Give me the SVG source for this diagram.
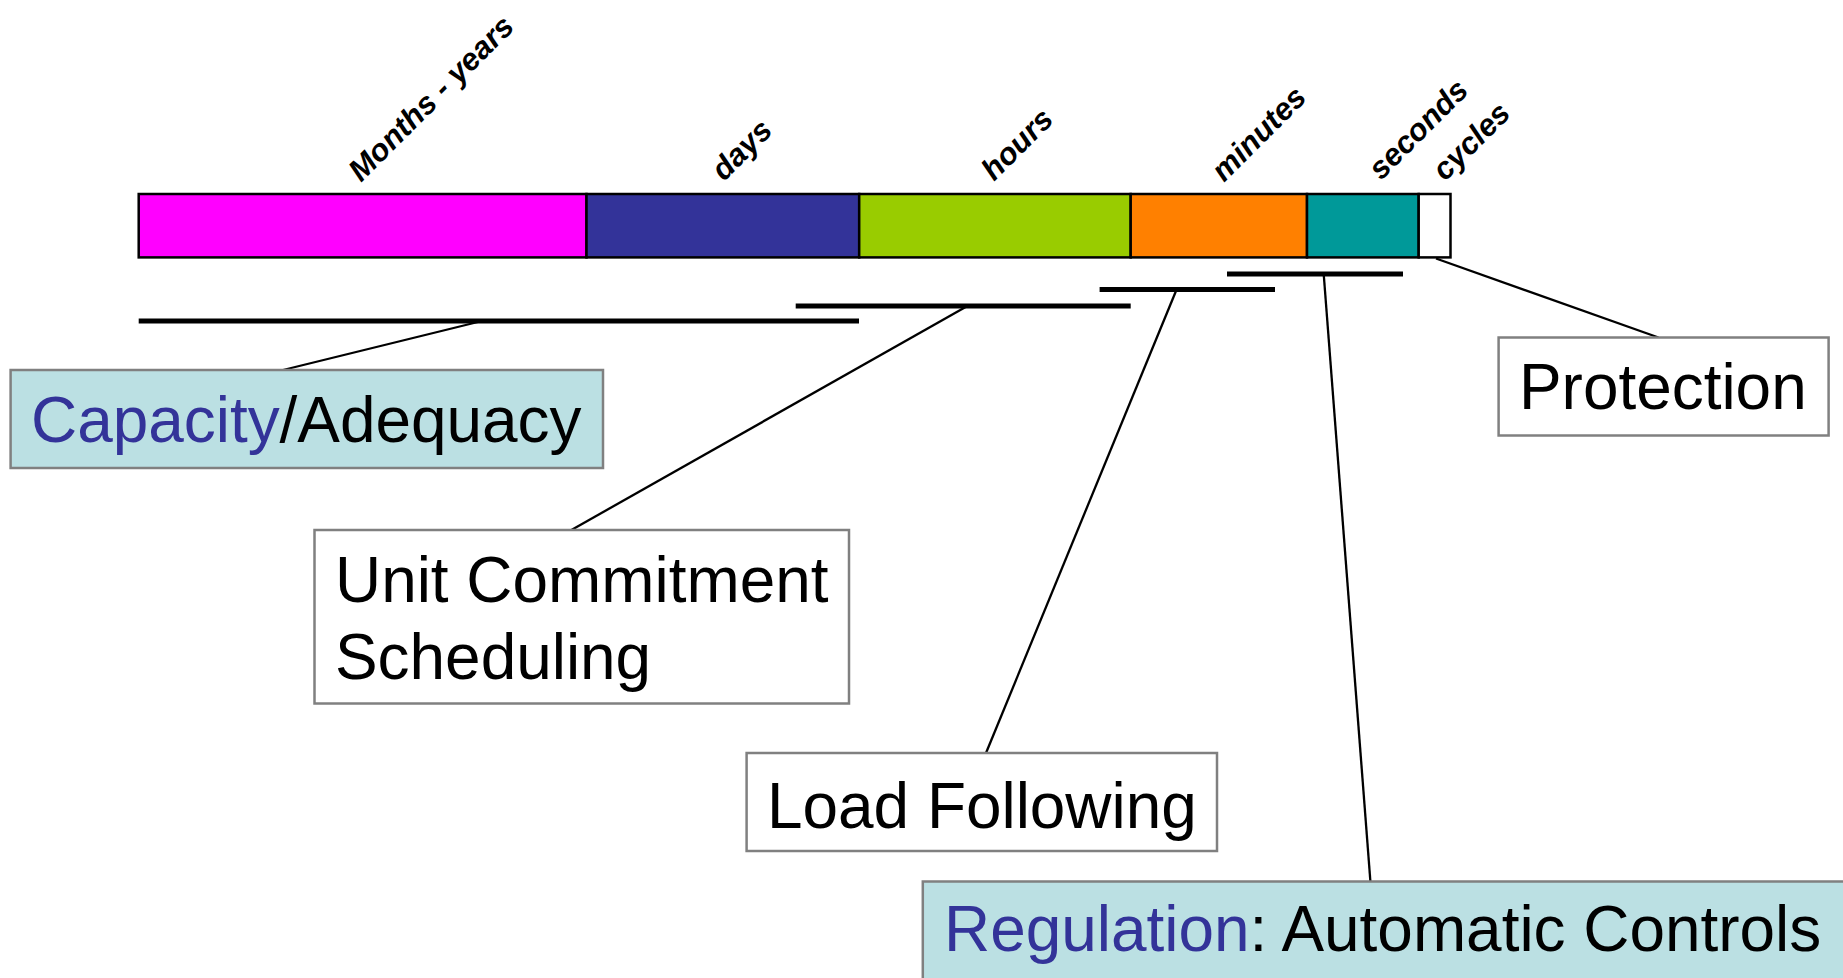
<svg xmlns="http://www.w3.org/2000/svg" width="1843" height="978" viewBox="0 0 1843 978">
  <style>
    .seg { stroke: #000; stroke-width: 2.5; }
    .tick { font-family: "Liberation Sans", Arial, sans-serif; font-size: 31px; font-weight: bold; font-style: italic; fill: #000; }
    .box { stroke: #808080; stroke-width: 2.5; }
    .plain { fill: #fff; }
    .tinted { fill: #BBE0E3; }
    .lbl { font-family: "Liberation Sans", Arial, sans-serif; font-size: 63.9px; fill: #000; }
    .hi { fill: #333399; }
    .span { stroke: #000; stroke-width: 5; }
    .link { stroke: #000; stroke-width: 2.3; fill: none; }
  </style>

  <!-- time-scale bar -->
  <g id="timescale">
    <rect class="seg" x="138.7" y="194" width="447.8" height="63.4" fill="#FF00FF"/>
    <rect class="seg" x="586.5" y="194" width="272.7" height="63.4" fill="#333399"/>
    <rect class="seg" x="859.2" y="194" width="271.5" height="63.4" fill="#99CC00"/>
    <rect class="seg" x="1130.7" y="194" width="176.3" height="63.4" fill="#FF8000"/>
    <rect class="seg" x="1307" y="194" width="111.7" height="63.4" fill="#009999"/>
    <rect class="seg" x="1418.7" y="194" width="31.8" height="63.4" fill="#FFFFFF"/>
  </g>

  <!-- rotated time-scale labels -->
  <g id="scale-labels">
    <text class="tick" transform="translate(361,183) rotate(-45)">Months - years</text>
    <text class="tick" transform="translate(724,182) rotate(-45)">days</text>
    <text class="tick" transform="translate(994,182) rotate(-45)">hours</text>
    <text class="tick" transform="translate(1224,183) rotate(-45)">minutes</text>
    <text class="tick" transform="translate(1381,181) rotate(-45)">seconds</text>
    <text class="tick" transform="translate(1445,182) rotate(-45)">cycles</text>
  </g>

  <!-- span bars and leader lines -->
  <g id="connectors">
    <line class="span" x1="138.7" y1="321" x2="859" y2="321"/>
    <line class="span" x1="795.7" y1="306" x2="1130.7" y2="306"/>
    <line class="span" x1="1099.6" y1="289.5" x2="1275" y2="289.5"/>
    <line class="span" x1="1227" y1="274" x2="1403" y2="274"/>
    <line class="link" x1="482" y1="321" x2="283" y2="370"/>
    <line class="link" x1="967.4" y1="306" x2="571.4" y2="530"/>
    <line class="link" x1="1176.6" y1="289.5" x2="986" y2="753"/>
    <line class="link" x1="1323.7" y1="274" x2="1370.4" y2="881.5"/>
    <line class="link" x1="1436" y1="258.5" x2="1658.5" y2="337.5"/>
  </g>

  <g id="capacity">
    <rect class="box tinted" x="10.6" y="370" width="592.4" height="98"/>
    <text class="lbl" x="31" y="442"><tspan class="hi">Capacity</tspan>/Adequacy</text>
  </g>

  <g id="unit-commitment">
    <rect class="box plain" x="314.5" y="530" width="534.5" height="173.5"/>
    <text class="lbl" x="335" y="602">Unit Commitment</text>
    <text class="lbl" x="335" y="679">Scheduling</text>
  </g>

  <g id="load-following">
    <rect class="box plain" x="746.6" y="753" width="470.4" height="98"/>
    <text class="lbl" x="767" y="828">Load Following</text>
  </g>

  <g id="regulation">
    <rect class="box tinted" x="922.8" y="881.5" width="960" height="120"/>
    <text class="lbl" x="944" y="951"><tspan class="hi">Regulation</tspan>: Automatic Controls</text>
  </g>

  <g id="protection">
    <rect class="box plain" x="1498.6" y="337.5" width="330" height="98"/>
    <text class="lbl" x="1519" y="409">Protection</text>
  </g>
</svg>
